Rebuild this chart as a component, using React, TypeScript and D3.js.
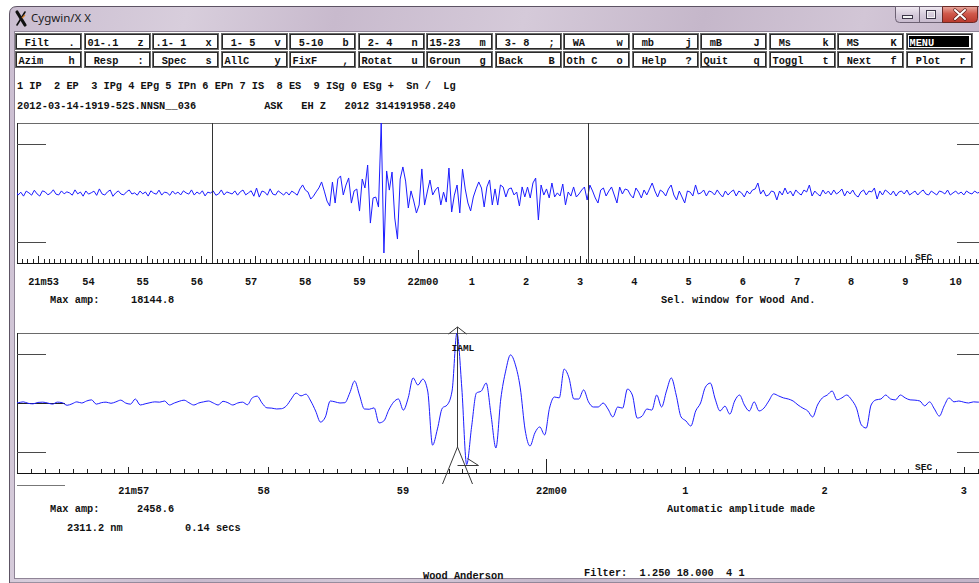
import React from "react";
import * as d3 from "d3";

const WIDTH = 979;
const HEIGHT = 583;
const MONO = "'Liberation Mono', 'DejaVu Sans Mono', monospace";
const UI = "'Noto Sans', 'DejaVu Sans', sans-serif";

// ---- command buttons: [label, shortcut key] ----
const BUTTONS_ROW1: [string, string][] = [
  [" Filt", "."], ["01-.1", "z"], [".1- 1", "x"], [" 1- 5", "v"], [" 5-10", "b"],
  [" 2- 4", "n"], ["15-23", "m"], [" 3- 8", ";"], [" WA", "w"], [" mb", "j"],
  [" mB", "J"], [" Ms", "k"], [" MS", "K"], ["MENU", ""],
];
const BUTTONS_ROW2: [string, string][] = [
  ["Azim", "h"], [" Resp", ":"], [" Spec", "s"], ["AllC", "y"], ["FixF", ","],
  ["Rotat", "u"], ["Groun", "g"], ["Back", "B"], ["Oth C", "o"], [" Help", "?"],
  ["Quit", "q"], ["Toggl", "t"], [" Next", "f"], [" Plot", "r"],
];

// ---- header lines ----
const PHASE_KEYS = "1 IP  2 EP  3 IPg 4 EPg 5 IPn 6 EPn 7 IS  8 ES  9 ISg 0 ESg +  Sn /  Lg";
const TRACE_INFO = "2012-03-14-1919-52S.NNSN__036           ASK   EH Z   2012 314191958.240";

// ---- raw trace, ASK EH Z (counts), seconds after 21:00 ----
const TOP_MAX_AMP = 18144.8;
const TOP_T0 = 52.58;
const TOP_DT = 0.05;
const TOP_VIEW: [number, number] = [52.61, 70.36];
const TOP_COUNTS = [
  760, -540, 210, -810, 490, 30, -560, 720, -240, -790, 560, 280, -470, -40, 830, -300, -510, 540, -220, 300,
  20, -560, 810, -230, 250, -820, 530, -290, 60, 480, -610, 1060, -240, -530, 300, 770, -850, 10, 540, -280,
  -490, 280, 790, -260, 40, -570, 510, -230, 270, -800, 560, -20, -310, 740, -540, 230, 50, -590, 520, -270,
  240, -510, 560, 30, -290, 800, -530, 260, -250, 570, -760, 220, -10, 530, -580, -230, 790, -500, 280, 20,
  -260, 540, -560, 310, 770, -490, 40, 580, -830, 1290, -1060, 510, 240, -570, 1080, -280, -520, 560, 10, -540,
  270, -530, 490, 20, -560, 1050, 2090, 760, 240, -1570, -810, 290, 1320, 2860, 490, -2080, -3380, 2840, -2600, 3640,
  4420, -510, 2060, 3900, -2610, 540, 1030, -4680, 3620, 1310, 7250, -7790, -1290, -1050, -3640, 18144.8, -15550, 5710, 760, 5430,
  -6480, -11930, 3610, 6750, 3090, -3880, 540, -2070, -5190, -3100, 6230, -3120, 270, 3360, -510, 790, 1540, -3090, 230, -2350,
  6470, -4930, -540, 2070, -5170, 6210, 1050, -2590, -4650, -1030, 1060, 2860, 1290, -3620, 1560, 3380, -3100, 1050, -3120, 2080,
  1540, -1040, 1030, 1310, -510, 250, -3370, 1570, -1020, 1540, -1300, 2600, 3880, -6990, 2070, -530, 1050, -1290, 2590, -1030,
  30, -770, 2330, -3100, 260, -790, 1560, -1040, -250, 780, 1550, -1820, 2060, 530, -1290, -2600, 770, 1300, -780, 510,
  1560, -520, -2590, 1550, -260, 1040, 780, -530, -1290, 1300, 250, -1300, 780, -510, 1030, 2590, 520, -1040, 770, 260,
  -780, 1040, 2070, -520, -1810, 510, -1030, -2590, 520, 250, -780, 2080, -260, 10, 780, -770, 520, 260, -510, 790,
  -250, -1040, 520, -530, 270, 780, -780, 510, 20, -1030, 530, -260, 770, 1040, 2590, -270, 780, -790, -510, 520,
  260, -1810, 510, -520, 1300, -250, 520, -780, 790, -10, -520, 770, 260, 2070, -780, 510, -260, -770, 780, -250,
  520, -510, 780, -260, 250, 1040, -780, 520, -250, 770, -520, -1040, 260, 780, -520, 510, 260, 1300, -1560, 520,
  -520, 780, 260, -510, 520, -780, 250, 520, -260, 770, -520, 10, 510, -520, 260, 780, -250, -520, 510, 0,
  -510, 520, 260, -250, 770, -520, 20, 510, -260, 250, -510, 520, 10, -260, 510, 0, 250,
];
// selected window (seconds) that is shown simulated as Wood-Anderson below
const WINDOW_SEL: [number, number] = [56.2, 63.14];
const TOP_LABEL_SECS = [53, 54, 55, 56, 57, 58, 59, 60, 61, 62, 63, 64, 65, 66, 67, 68, 69, 70];
const TOP_LABELS = ["21m53", "54", "55", "56", "57", "58", "59", "22m00", "1", "2", "3", "4", "5", "6", "7", "8", "9", "10"];

// ---- Wood-Anderson simulated trace (nm) ----
const WA_MAX_AMP = 2458.6;
const WA_T0 = 56.175;
const WA_DT = 0.035;
const WA_VIEW: [number, number] = [56.2, 63.11];
const WA_NM = [
  0, 10, 40, -10, -30, 20, 30, 0, -40, 30,
  10, -80, -30, 40, 0, 70, 110, -40, 10, 30,
  -10, 40, 100, 0, -40, 140, -70, -30, 10, 40,
  30, 70, -70, 0, 60, 100, 10, -70, 0, 40,
  70, 0, -70, 60, 10, -70, 0, 30, -60, 180,
  240, 0, -170, -180, -210, -200, -100, 140, 350, 250,
  310, 70, -280, -670, -490, 70, 40, 0, 10, 350,
  770, 280, -210, -220, -170, -700, -630, -250, 30, 140,
  -250, 180, 880, 630, 840, 420, -1480, -910, -180, -70,
  420, 2458.6, 530, -2163.8, -850, 350, 420, 700, -420, -1580,
  140, 1120, 1690, 1340, 530, -950, -1510, -1050, -840, -1120,
  -180, 210, 180, 1190, 880, 140, 140, 460, 40, -140,
  -140, 0, -210, -490, -140, -180, 490, 280, -530, -460,
  -210, -250, 280, -140, 420, 880, 280, -490, -630, -810,
  -280, 0, 560, 700, 140, -280, -110, -390, 70, 280,
  -70, -280, 40, -280, -180, 70, 320, 250, 180, 140,
  70, -70, -180, -280, -490, -70, 180, 280, 420, 110,
  180, 280, 110, -180, -770, -880, -70, 110, 140, 280,
  140, 110, 280, 180, 110, 100, 70, -100, 40, -210,
  -460, -100, 180, 40, 70, 30, 0, 40, 30, 40,
];
const WA_LABEL_SECS = [57, 58, 59, 60, 61, 62, 63];
const WA_LABELS = ["21m57", "58", "59", "22m00", "1", "2", "3"];
const WA_AMPLITUDE = "2311.2 nm";
const WA_PERIOD = "0.14 secs";
const FILTER_TEXT = "Filter:  1.250 18.000  4 1";

// fraction of full scale where the short amplitude guide marks sit
const GUIDE_FRACTION = 0.7;

const PANEL_LEFT = 17;
const PANEL_RIGHT = 979;

function Txt(props: {
  x: number; y: number; children: React.ReactNode; size?: number; fill?: string;
  anchor?: string; weight?: string | number; family?: string;
}) {
  const { x, y, children, size = 10.3, fill = "#111", anchor = "start", weight = "bold", family = MONO } = props;
  return (
    <text x={x} y={y} fontFamily={family} fontSize={size} fontWeight={weight} fill={fill}
      textAnchor={anchor as any} style={{ whiteSpace: "pre" }}>
      {children}
    </text>
  );
}

function tickPath(scale: d3.ScaleLinear<number, number>, view: [number, number], base: number,
  minor: number, second: number, minute: number) {
  const ks = d3.range(Math.ceil(view[0] * 10), Math.floor(view[1] * 10) + 1);
  return ks.map((k) => {
    const x = Math.round(scale(k / 10)) + 0.5;
    const len = k % 600 === 0 ? minute : k % 10 === 0 ? second : minor;
    return `M${x},${base}V${base - len}`;
  }).join("");
}

function Panel(props: {
  id: string; top: number; bottom: number; xScale: d3.ScaleLinear<number, number>;
  view: [number, number]; maxAmp: number; tickLens: [number, number, number];
  labelSecs: number[]; labels: string[]; labelBase: number; children?: React.ReactNode;
}) {
  const { id, top, bottom, xScale, view, maxAmp, tickLens, labelSecs, labels, labelBase, children } = props;
  const y = d3.scaleLinear().domain([-maxAmp, maxAmp]).range([bottom, top]);
  const gUp = Math.round(y(maxAmp * GUIDE_FRACTION)) + 0.5;
  const gDn = Math.round(y(-maxAmp * GUIDE_FRACTION)) + 0.5;
  return (
    <g>
      <defs>
        <clipPath id={id}>
          <rect x={PANEL_LEFT} y={top - 8} width={PANEL_RIGHT - PANEL_LEFT} height={bottom - top + 16} />
        </clipPath>
      </defs>
      <g shapeRendering="crispEdges">
        <line x1={PANEL_LEFT} x2={PANEL_RIGHT} y1={top + 0.5} y2={top + 0.5} stroke="#6a6a6a" />
        <line x1={PANEL_LEFT + 0.5} x2={PANEL_LEFT + 0.5} y1={top} y2={bottom} stroke="#222" />
        <line x1={PANEL_LEFT} x2={PANEL_RIGHT} y1={bottom + 0.5} y2={bottom + 0.5} stroke="#111" />
        <path d={tickPath(xScale, view, bottom, tickLens[0], tickLens[1], tickLens[2])} stroke="#222" />
        <path d={`M${PANEL_LEFT},${gUp}H46M${PANEL_LEFT},${gDn}H46M957,${gUp}H${PANEL_RIGHT}M957,${gDn}H${PANEL_RIGHT}`}
          stroke="#4a4a4a" />
      </g>
      {labelSecs.map((s, i) => (
        <Txt key={s} x={xScale(s) - (labels[i].length === 1 ? 3 : 10)} y={labelBase}>{labels[i]}</Txt>
      ))}
      <Txt x={915} y={bottom - 3} size={9.5}>SEC</Txt>
      <g clipPath={`url(#${id})`}>{children}</g>
    </g>
  );
}

export default function App() {
  const topX = d3.scaleLinear().domain(TOP_VIEW).range([PANEL_LEFT, PANEL_RIGHT]);
  const topY = d3.scaleLinear().domain([-TOP_MAX_AMP, TOP_MAX_AMP]).range([263, 123]);
  const waX = d3.scaleLinear().domain(WA_VIEW).range([PANEL_LEFT, PANEL_RIGHT]);
  const waY = d3.scaleLinear().domain([-WA_MAX_AMP, WA_MAX_AMP]).range([473, 333]);

  const topLine = d3.line<number>()
    .x((_, i) => topX(TOP_T0 + i * TOP_DT))
    .y((d) => topY(d));
  const waLine = d3.line<number>()
    .x((_, i) => waX(WA_T0 + i * WA_DT))
    .y((d) => waY(d))
    .curve(d3.curveMonotoneX);

  const peakIdx = d3.maxIndex(WA_NM);
  const troughIdx = d3.minIndex(WA_NM);
  const px = Math.round(waX(WA_T0 + peakIdx * WA_DT)) + 0.5;
  const troughY = Math.round(waY(WA_NM[troughIdx])) + 0.5;

  const btnLeft = (i: number) => Math.round(15 + 68.54 * i) + 0.5;

  const renderRow = (row: [string, string][], top: number, base: number) =>
    row.map(([label, key], i) => {
      const l = btnLeft(i);
      const isMenu = label === "MENU";
      return (
        <g key={label + i}>
          <rect x={l} y={top} width={66} height={16} fill="#fff" stroke="#6b6b6b" shapeRendering="crispEdges" />
          <rect x={l + 1} y={top + 1} width={64} height={14} fill="none" stroke="#2a2a2a" shapeRendering="crispEdges" />
          {isMenu && <rect x={l + 2} y={top + 2} width={60} height={11} fill="#000" shapeRendering="crispEdges" />}
          <Txt x={l + 3} y={base} fill={isMenu ? "#fff" : "#111"}>{label}</Txt>
          {key && <Txt x={l + 56} y={base} anchor="middle">{key}</Txt>}
        </g>
      );
    });

  return (
    <svg width={WIDTH} height={HEIGHT} viewBox={`0 0 ${WIDTH} ${HEIGHT}`}
      style={{ position: "absolute", left: 0, top: 0, display: "block" }}>
      <defs>
        <linearGradient id="titleGrad" x1="0" x2="1" y1="0" y2="0.15">
          <stop offset="0" stopColor="#cabdd0" />
          <stop offset="0.18" stopColor="#d8cedc" />
          <stop offset="0.33" stopColor="#c8bacd" />
          <stop offset="0.52" stopColor="#d5cad9" />
          <stop offset="0.7" stopColor="#c5b7ca" />
          <stop offset="0.86" stopColor="#d2c6d6" />
          <stop offset="1" stopColor="#c4b5c9" />
        </linearGradient>
        <linearGradient id="btnGrad" x1="0" x2="0" y1="0" y2="1">
          <stop offset="0" stopColor="#f0eaf2" />
          <stop offset="0.5" stopColor="#d6cbdb" />
          <stop offset="1" stopColor="#c7bacd" />
        </linearGradient>
        <linearGradient id="closeGrad" x1="0" x2="0" y1="0" y2="1">
          <stop offset="0" stopColor="#e9aaa0" />
          <stop offset="0.45" stopColor="#d0594b" />
          <stop offset="1" stopColor="#b9382c" />
        </linearGradient>
      </defs>

      <rect x={0} y={0} width={WIDTH} height={HEIGHT} fill="#ffffff" />

      {/* window frame and title bar */}
      <path d={`M9.5,${HEIGHT} V14 Q9.5,6.5 17,6.5 H${WIDTH + 5} V${HEIGHT} Z`} fill="url(#titleGrad)" stroke="#5d5364" />
      <rect x={14.5} y={31.5} width={WIDTH - 14} height={547} fill="#ffffff" stroke="#8f8496" shapeRendering="crispEdges" />
      <g>
        <path d="M17,12 L25,25" stroke="#111" strokeWidth={3.2} strokeLinecap="round" />
        <path d="M25,12 L17,25" stroke="#111" strokeWidth={1.6} strokeLinecap="round" />
        <path d="M22,18 L25,15" stroke="#d9822b" strokeWidth={1.2} />
      </g>
      <Txt x={31} y={22} size={11.5} weight="normal" family={UI} fill="#1b1b1b">Cygwin/X X</Txt>

      <g>
        <path d="M895.5,6.5 H919.5 V22.5 H899.5 Q895.5,22.5 895.5,18.5 Z" fill="url(#btnGrad)" stroke="#6c6173" />
        <rect x={902.5} y={15.5} width={10} height={3} fill="#f4f4f4" stroke="#3b3447" />
        <rect x={919.5} y={6.5} width={23} height={16} fill="url(#btnGrad)" stroke="#6c6173" />
        <rect x={926.5} y={10.5} width={9} height={8} fill="none" stroke="#3b3447" strokeWidth={1} />
        <rect x={927.5} y={11.5} width={7} height={6} fill="none" stroke="#f4f4f4" strokeWidth={1} />
        <path d="M942.5,6.5 H977.5 V18.5 Q977.5,22.5 973.5,22.5 H942.5 Z" fill="url(#closeGrad)" stroke="#6a2a26" />
        <path d="M955,10 L965,19 M965,10 L955,19" stroke="#5a1f1a" strokeWidth={3.4} strokeLinecap="round" />
        <path d="M955,10 L965,19 M965,10 L955,19" stroke="#ffffff" strokeWidth={2} strokeLinecap="round" />
      </g>

      {/* command buttons */}
      {renderRow(BUTTONS_ROW1, 33.5, 46)}
      {renderRow(BUTTONS_ROW2, 51.5, 64)}

      <Txt x={17} y={89}>{PHASE_KEYS}</Txt>
      <Txt x={17} y={109}>{TRACE_INFO}</Txt>

      {/* raw trace panel */}
      <Panel id="topClip" top={123} bottom={263} xScale={topX} view={TOP_VIEW} maxAmp={TOP_MAX_AMP}
        tickLens={[4, 7, 13]} labelSecs={TOP_LABEL_SECS} labels={TOP_LABELS} labelBase={285}>
        <path d={topLine(TOP_COUNTS) || ""} fill="none" stroke="#1c1cff" strokeWidth={1} strokeLinejoin="round" />
      </Panel>
      <g shapeRendering="crispEdges">
        {WINDOW_SEL.map((t) => (
          <line key={t} x1={Math.round(topX(t)) + 0.5} x2={Math.round(topX(t)) + 0.5} y1={123} y2={263} stroke="#333" />
        ))}
      </g>
      <Txt x={50} y={303}>Max amp:</Txt>
      <Txt x={131} y={303}>{TOP_MAX_AMP.toFixed(1)}</Txt>
      <Txt x={661} y={303}>Sel. window for Wood And.</Txt>

      {/* Wood-Anderson panel */}
      <Panel id="waClip" top={333} bottom={473} xScale={waX} view={WA_VIEW} maxAmp={WA_MAX_AMP}
        tickLens={[4, 6, 14]} labelSecs={WA_LABEL_SECS} labels={WA_LABELS} labelBase={494}>
        <line x1={PANEL_LEFT} x2={65} y1={Math.round(waY(0)) + 0.5} y2={Math.round(waY(0)) + 0.5} stroke="#222" />
        <path d={waLine(WA_NM) || ""} fill="none" stroke="#1c1cff" strokeWidth={1} strokeLinejoin="round" />
      </Panel>

      {/* amplitude pick marker */}
      <g stroke="#3a3a3a" strokeWidth={1} fill="none">
        <path d={`M${px},327 V447`} shapeRendering="crispEdges" />
        <path d={`M${px - 9},334 L${px},327 L${px + 9},334`} />
        <path d={`M${px - 15},484 L${px},447 L${px + 15},484`} />
        <path d={`M${px},${troughY} H${px + 21} M${px + 10},${troughY - 7} L${px + 21},${troughY}`} />
      </g>
      <Txt x={px - 6} y={351} size={9.5}>IAML</Txt>

      <line x1={PANEL_LEFT} x2={65} y1={485.5} y2={485.5} stroke="#777" shapeRendering="crispEdges" />
      <Txt x={50} y={512}>Max amp:</Txt>
      <Txt x={137} y={512}>{WA_MAX_AMP.toFixed(1)}</Txt>
      <Txt x={667} y={512}>Automatic amplitude made</Txt>
      <Txt x={67} y={531}>{WA_AMPLITUDE}</Txt>
      <Txt x={185} y={531}>{WA_PERIOD}</Txt>
      <Txt x={423} y={579}>Wood Anderson</Txt>
      <Txt x={584} y={576}>{FILTER_TEXT}</Txt>
    </svg>
  );
}
